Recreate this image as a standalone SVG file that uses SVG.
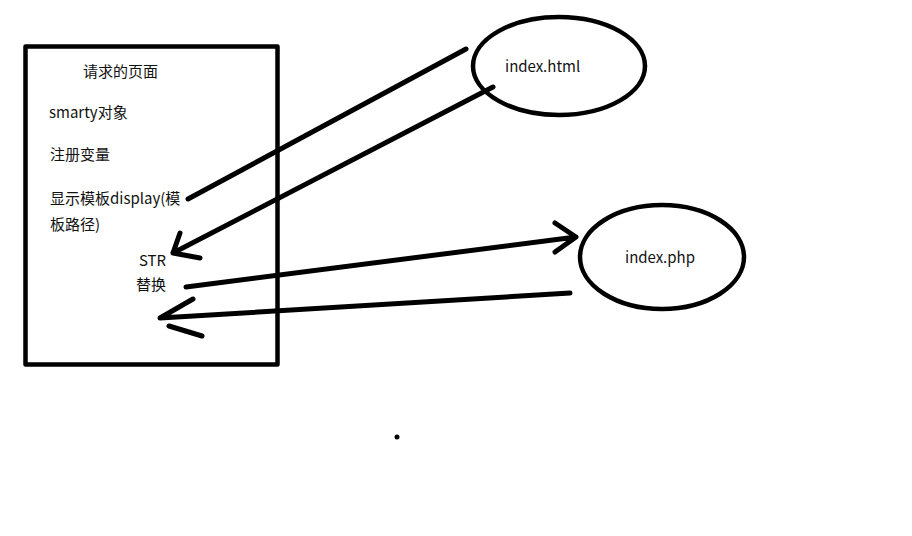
<svg xmlns="http://www.w3.org/2000/svg" width="912" height="536" viewBox="0 0 912 536">
<style>
.t{font-family:"Noto Sans CJK SC","Noto Sans",sans-serif;font-size:15px;fill:#111}
.s{fill:none;stroke:#000;stroke-linecap:round;stroke-linejoin:round}
</style>
<rect width="912" height="536" fill="#fff"/>
<g id="page">
<rect class="s" x="25.5" y="46.5" width="252" height="318" stroke-width="4.5"/>
<text class="t" x="83" y="77">请求的页面</text>
<text class="t" x="49" y="118">smarty对象</text>
<text class="t" x="50" y="160">注册变量</text>
<text class="t" x="50" y="204">显示模板display(模</text>
<text class="t" x="50" y="230">板路径)</text>
<text class="t" x="139" y="266">STR</text>
<text class="t" x="136" y="290">替换</text>
</g>
<g id="index-html">
<ellipse class="s" cx="559" cy="66" rx="86" ry="49" stroke-width="4.5"/>
<text class="t" x="505" y="72">index.html</text>
</g>
<g id="index-php">
<ellipse class="s" cx="662" cy="257" rx="82" ry="52" stroke-width="4.5"/>
<text class="t" x="625" y="263">index.php</text>
</g>
<g id="connectors" class="s" stroke-width="5">
<path d="M188 199 L466 49"/>
<path d="M493 87 L173 253 M180 233 L173 253 L200 258"/>
<path d="M186 287 L576 237 M555 223 L576 237 L555 252"/>
<path d="M570 293 L160 318 L193 299 M169 326 L202 336"/>
</g>
<circle cx="397" cy="437" r="2.5" fill="#000"/>
</svg>
